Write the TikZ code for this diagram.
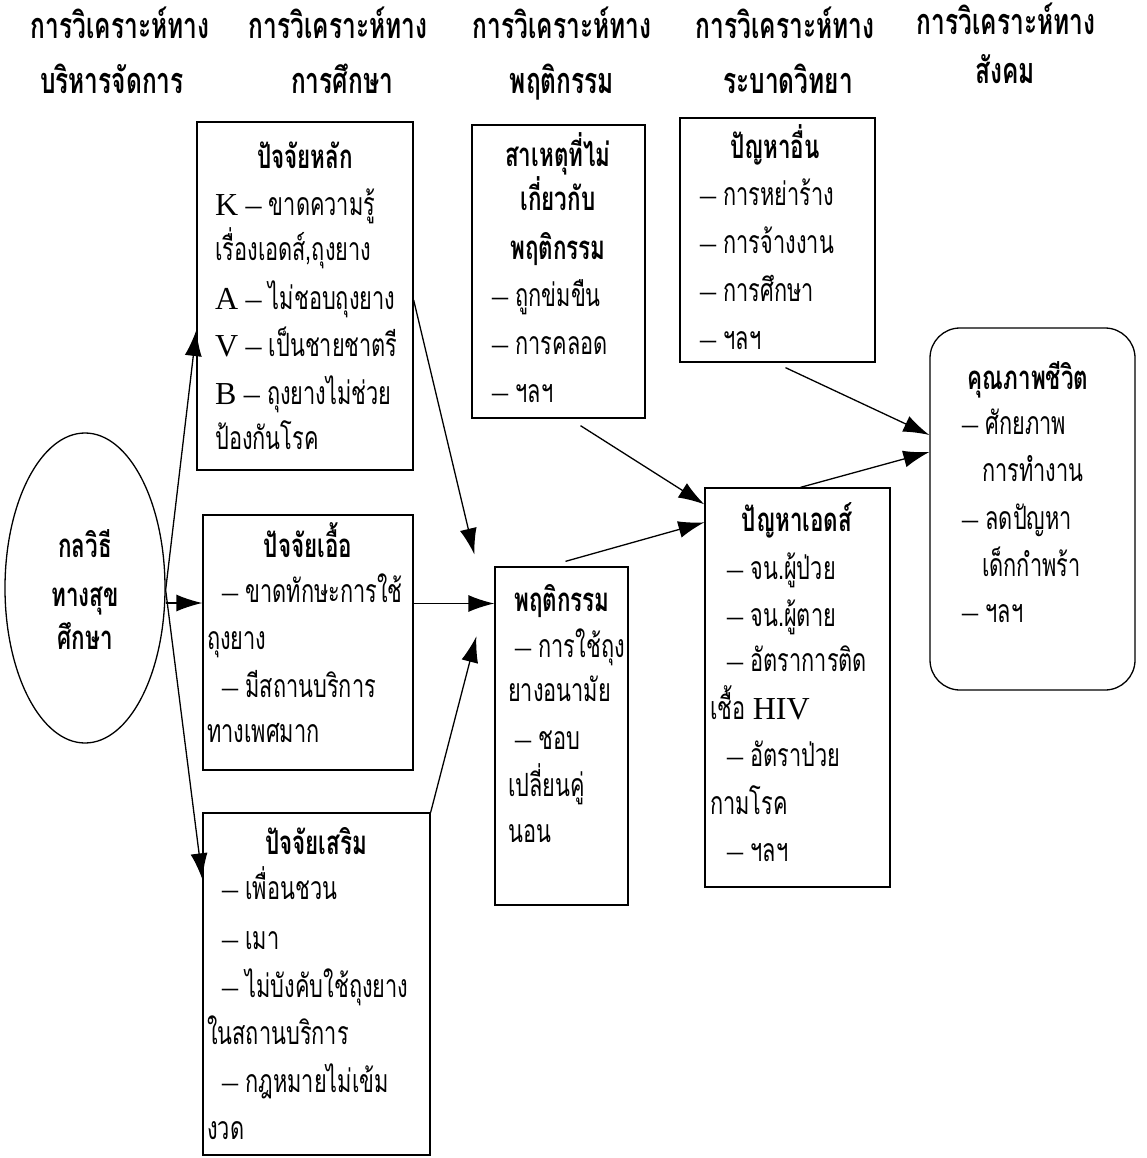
\documentclass[tikz,border=0pt]{standalone}
\usepackage{fontspec}
\setmainfont{Loma}[Script=Thai,FakeStretch=0.68]
\newfontfamily\lat{Liberation Serif}
\usetikzlibrary{shapes.geometric,arrows.meta,calc}
\newcommand\ndsh{{\lat –}}
\newcommand\bodysize{\fontsize{32}{47}\selectfont}
\newcommand\titlesize{\fontsize{33}{47}\selectfont\bfseries}
\newcommand\headsize{\fontsize{36}{47}\selectfont\bfseries}

\begin{document}
\begin{tikzpicture}[x=1pt,y=-1pt,
  box/.style={draw,line width=1.3pt,inner sep=0pt},
  ln/.style={font=\bodysize,inner sep=0pt,anchor=base west},
  ttl/.style={font=\titlesize,inner sep=0pt,anchor=base},
  hdr/.style={font=\headsize,inner sep=0pt,anchor=base},
  arr/.style={line width=1.3pt,-{Latex[length=26pt,width=17pt,fill=black]}}]
\fill[white] (0,0) rectangle (1147,1158);
\useasboundingbox (0,0) rectangle (1147,1158);

% column headings
\node[hdr] (h1a) at (120,39) {การวิเคราะห์ทาง};
\node[hdr] (h1b) at (112,94) {บริหารจัดการ};
\node[hdr] (h2a) at (338,39) {การวิเคราะห์ทาง};
\node[hdr] (h2b) at (342,94) {การศึกษา};
\node[hdr] (h3a) at (562,39) {การวิเคราะห์ทาง};
\node[hdr] (h3b) at (562,94) {พฤติกรรม};
\node[hdr] (h4a) at (785,39) {การวิเคราะห์ทาง};
\node[hdr] (h4b) at (788,94) {ระบาดวิทยา};
\node[hdr] (h5a) at (1006,35) {การวิเคราะห์ทาง};
\node[hdr] (h5b) at (1005,84) {สังคม};

% frames
\node[draw,line width=1.3pt,ellipse,minimum width=160pt,minimum height=310pt,inner sep=0pt] (ell) at (85,588) {};
\node[box,minimum width=216pt,minimum height=348pt] (hl) at (305,296) {};
\node[box,minimum width=210pt,minimum height=255pt] (ue) at (308,642.5) {};
\node[box,minimum width=227pt,minimum height=342pt] (sr) at (316.5,984) {};
\node[box,minimum width=133pt,minimum height=338pt] (pt) at (561.5,736) {};
\node[box,minimum width=173pt,minimum height=293pt] (sh) at (558.5,271.5) {};
\node[box,minimum width=195pt,minimum height=244pt] (oth) at (777.5,240) {};
\node[box,minimum width=185pt,minimum height=399pt] (aids) at (797.5,687.5) {};
\node[box,rounded corners=30pt,minimum width=205pt,minimum height=362pt] (ql) at (1032.5,509) {};

% strategy
\node[ttl] (e1) at (85,557) {กลวิธี};
\node[ttl] (e2) at (85,606) {ทางสุข};
\node[ttl] (e3) at (85,649) {ศึกษา};

% main factors
\node[ttl] (hlt) at (305,169) {ปัจจัยหลัก};
\node[ln] (hl1) at (215,216) {{\lat K} \ndsh{} ขาดความรู้};
\node[ln] (hl2) at (215,261) {เรื่องเอดส์,ถุงยาง};
\node[ln] (hl3) at (215,309) {{\lat A} \ndsh{} ไม่ชอบถุงยาง};
\node[ln] (hl4) at (215,356) {{\lat V} \ndsh{} เป็นชายชาตรี};
\node[ln] (hl5) at (215,404) {{\lat B} \ndsh{} ถุงยางไม่ช่วย};
\node[ln] (hl6) at (215,449) {ป้องกันโรค};

% enabling factors
\node[ttl] (uet) at (308,557) {ปัจจัยเอื้อ};
\node[ln] (ue1) at (222,602) {\ndsh{} ขาดทักษะการใช้};
\node[ln] (ue2) at (207,649) {ถุงยาง};
\node[ln] (ue3) at (222,697) {\ndsh{} มีสถานบริการ};
\node[ln] (ue4) at (207,742) {ทางเพศมาก};

% reinforcing factors
\node[ttl] (srt) at (316,854) {ปัจจัยเสริม};
\node[ln] (sr1) at (222,899) {\ndsh{} เพื่อนชวน};
\node[ln] (sr2) at (222,949) {\ndsh{} เมา};
\node[ln] (sr3) at (222,997) {\ndsh{} ไม่บังคับใช้ถุงยาง};
\node[ln] (sr4) at (207,1044) {ในสถานบริการ};
\node[ln] (sr5) at (222,1092) {\ndsh{} กฎหมายไม่เข้ม};
\node[ln] (sr6) at (207,1139) {งวด};

% behaviour
\node[ttl] (ptt) at (562,611) {พฤติกรรม};
\node[ln] (pt1) at (515,657) {\ndsh{} การใช้ถุง};
\node[ln] (pt2) at (508,701) {ยางอนามัย};
\node[ln] (pt3) at (515,749) {\ndsh{} ชอบ};
\node[ln] (pt4) at (508,796) {เปลี่ยนคู่};
\node[ln] (pt5) at (508,842) {นอน};

% non-behavioural causes
\node[ttl] (sht1) at (558,167) {สาเหตุที่ไม่};
\node[ttl] (sht2) at (558,211) {เกี่ยวกับ};
\node[ttl] (sht3) at (558,259) {พฤติกรรม};
\node[ln] (sh1) at (492,306) {\ndsh{} ถูกข่มขืน};
\node[ln] (sh2) at (492,354) {\ndsh{} การคลอด};
\node[ln] (sh3) at (492,402) {\ndsh{} ฯลฯ};

% other problems
\node[ttl] (otht) at (775,159) {ปัญหาอื่น};
\node[ln] (oth1) at (700,206) {\ndsh{} การหย่าร้าง};
\node[ln] (oth2) at (700,254) {\ndsh{} การจ้างงาน};
\node[ln] (oth3) at (700,301) {\ndsh{} การศึกษา};
\node[ln] (oth4) at (700,349) {\ndsh{} ฯลฯ};

% AIDS problem
\node[ttl] (aidst) at (797,531) {ปัญหาเอดส์};
\node[ln] (aids1) at (727,579) {\ndsh{} จน.ผู้ป่วย};
\node[ln] (aids2) at (727,626) {\ndsh{} จน.ผู้ตาย};
\node[ln] (aids3) at (727,671) {\ndsh{} อัตราการติด};
\node[ln] (aids4) at (710,719) {เชื้อ {\lat HIV}};
\node[ln] (aids5) at (727,766) {\ndsh{} อัตราป่วย};
\node[ln] (aids6) at (710,814) {กามโรค};
\node[ln] (aids7) at (727,861) {\ndsh{} ฯลฯ};

% quality of life
\node[ttl] (qlt) at (1028,389) {คุณภาพชีวิต};
\node[ln] (ql1) at (962,434) {\ndsh{} ศักยภาพ};
\node[ln] (ql2) at (982,481) {การทำงาน};
\node[ln] (ql3) at (962,529) {\ndsh{} ลดปัญหา};
\node[ln] (ql4) at (982,576) {เด็กกำพร้า};
\node[ln] (ql5) at (962,622) {\ndsh{} ฯลฯ};

% connectors
\coordinate (eo) at ($(ell.east)+(0,2)$);
\coordinate (eh) at ($(ell.east)+(0,15)$);
\draw[arr] (eo) -- ($(hl.west)+(0,34)$);
\draw[arr] (eh) -- (eh -| ue.west);
\draw[arr] (eo) -- ($(sr.north west)+(0,67)$);

\coordinate (hltip) at ($(pt.north west)+(-20,-12)$);
\coordinate (srtip) at ($(pt.north west)+(-18,70)$);
\coordinate (uo) at ($(ue.east)+(0,-39)$);
\draw[arr] ($(hl.east)+(0,4)$) -- (hltip);
\draw[arr] (uo) -- (uo -| pt.west);
\draw[arr] (sr.north east) -- (srtip);

\draw[arr] ($(sh.south)+(22,7)$) -- ($(aids.north west)+(0,17)$);
\draw[arr] ($(pt.north)+(4,-5)$) -- ($(aids.north west)+(0,35)$);
\draw[arr] ($(oth.south)+(8,5)$) -- ($(ql.west)+(0,-74)$);
\draw[arr] ($(aids.north)+(3,0)$) -- ($(ql.west)+(0,-57)$);
\end{tikzpicture}
\end{document}
